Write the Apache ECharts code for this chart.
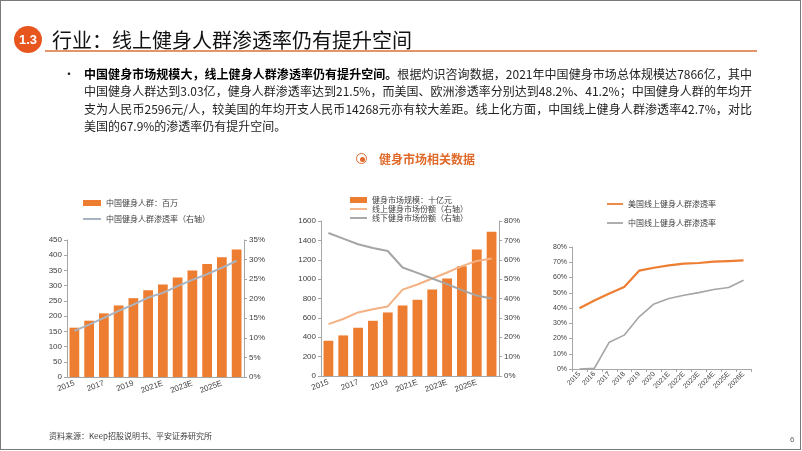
<!DOCTYPE html>
<html><head><meta charset="utf-8">
<script src="https://cdn.jsdelivr.net/npm/echarts@6/dist/echarts.min.js"></script>
<style>
html,body{margin:0;padding:0;background:#fff;}
body{width:802px;height:451px;position:relative;overflow:hidden;font-family:"Noto Sans CJK SC",sans-serif;}
#frame{position:absolute;left:0;top:0;width:799px;height:448px;border:1px solid #7a7a7a;pointer-events:none;z-index:5;}
#chart{position:absolute;left:0;top:0;width:802px;height:451px;}
.abs{position:absolute;z-index:3;white-space:nowrap;}
#badge{left:14px;top:26px;width:28px;height:27px;border-radius:50%;background:#E8561F;color:#fff;font:bold 13px "Liberation Sans",Arial,sans-serif;line-height:27px;text-align:center;}
#title{left:52px;top:29px;font-size:20px;line-height:22px;color:#111;}
#uline{left:45px;top:50px;width:712px;height:2px;background:#E2946A;}
#bullet{left:63px;top:65px;font-size:12px;line-height:17.3px;color:#222;}
#para{left:84px;top:65px;width:668px;font-size:12px;line-height:17.3px;color:#222;white-space:normal;}
#para div{text-align:justify;text-align-last:justify;white-space:nowrap;}
#para div.last{text-align-last:left;}
#para b{color:#000;}
#sec{left:379px;top:151px;font-size:12px;line-height:16px;color:#E06A2A;font-weight:bold;}
#ring{left:356px;top:153px;width:9px;height:9px;border:1.5px solid #E06A2A;border-radius:50%;}
#dot{left:359.5px;top:156.5px;width:5px;height:5px;background:#E06A2A;border-radius:50%;}
#src{left:49px;top:431px;font-size:8px;line-height:10px;color:#404040;}
#pg{left:790px;top:435px;font-size:8px;line-height:10px;color:#666;font-family:"Liberation Sans",Arial,sans-serif;}
</style></head>
<body>
<div id="chart"></div>
<div id="frame"></div>
<div class="abs" id="badge">1.3</div>
<div class="abs" id="title">行业：线上健身人群渗透率仍有提升空间</div>
<div class="abs" id="uline"></div>
<div class="abs" id="bullet">•</div>
<div class="abs" id="para">
<div><b>中国健身市场规模大，线上健身人群渗透率仍有提升空间。</b>根据灼识咨询数据，2021年中国健身市场总体规模达7866亿，其中</div>
<div>中国健身人群达到3.03亿，健身人群渗透率达到21.5%，而美国、欧洲渗透率分别达到48.2%、41.2%；中国健身人群的年均开</div>
<div>支为人民币2596元/人，较美国的年均开支人民币14268元亦有较大差距。线上化方面，中国线上健身人群渗透率42.7%，对比</div>
<div class="last">美国的67.9%的渗透率仍有提升空间。</div>
</div>
<div class="abs" id="ring"></div>
<div class="abs" id="dot"></div>
<div class="abs" id="sec">健身市场相关数据</div>
<div class="abs" id="src">资料来源：Keep招股说明书、平安证券研究所</div>
<div class="abs" id="pg">6</div>
<script>
// ---- data ----
const years = ['2015','2016','2017','2018','2019','2020','2021E','2022E','2023E','2024E','2025E','2026E'];
// chart 1
const fitnessPopulation = [162,185,209,235,259,285,304,327,350,371,393,419];
const fitnessPenetration = [11.8,13.4,15.1,16.9,18.5,20.3,21.5,23.2,24.8,26.3,27.9,29.7];
// chart 2
const marketSize = [364,419,498,570,656,728,787,893,1006,1133,1305,1490];
const onlineShare = [26.8,29.4,32.8,34.5,35.9,44.6,47.2,50.3,53.4,56.7,59.4,60.6];
const offlineShare = [73.8,70.9,68.0,66.1,64.5,56.0,53.2,50.3,47.4,44.3,41.5,40.0];
// chart 3
const usOnlinePenetration = [39.9,44.9,49.5,53.8,64.5,66.4,67.9,69.1,69.5,70.4,70.8,71.2];
const cnOnlinePenetration = [0,0.5,17.6,22.2,34.2,42.7,46.2,48.4,50.1,52.1,53.4,58.2];
// tick settings
const y1Left = {min:0,max:450,interval:50};
const y1Right = {min:0,max:35,interval:5};
const y2Left = {min:0,max:1600,interval:200};
const y2Right = {min:0,max:80,interval:10};
const y3 = {min:0,max:80,interval:10};

const names = {
  pop:'中国健身人群：百万', popRate:'中国健身人群渗透率（右轴）',
  size:'健身市场规模：十亿元', online:'线上健身市场份额（右轴）', offline:'线下健身市场份额（右轴）',
  us:'美国线上健身人群渗透率', cn:'中国线上健身人群渗透率'
};

const ORANGE='#ED7D31', GRAY='#A5A5A5', AXIS='#A6A6A6', LBL='#404040';
const numFont = '"Liberation Sans", Arial, sans-serif';
const cjkFont = '"Noto Sans CJK SC", sans-serif';
const LINE_ICON = 'path://M0,0H18V2H0Z';

function yAxis(grid, cfg, pos, pct, fs){
  return Object.assign({type:'value',gridIndex:grid,position:pos,splitLine:{show:false},
    axisLine:{show:true,lineStyle:{color:AXIS,width:1}},
    axisTick:{show:true,length:3,lineStyle:{color:AXIS}},
    axisLabel:{color:LBL,fontFamily:numFont,fontSize:fs||8,margin:5,
      formatter:pct?(v=>v+'%'):(v=>String(v))}},cfg);
}
function xAxis(grid, opts){
  return Object.assign({type:'category',gridIndex:grid,data:years,boundaryGap:true,
    axisLine:{lineStyle:{color:AXIS,width:1}},axisTick:{show:false},
    axisLabel:{color:LBL,fontFamily:numFont,fontSize:8,interval:1,rotate:20,margin:6}},opts||{});
}
const legendText = {fontSize:8,color:LBL,fontFamily:cjkFont};

const chart = echarts.init(document.getElementById('chart'));
chart.setOption({
  animation:false,
  grid:[
    {left:67,top:240,width:177,height:137},
    {left:321,top:221,width:178,height:155},
    {left:572,top:247,width:179,height:122}
  ],
  legend:[
    {orient:'vertical',left:78,top:194,itemWidth:18,itemHeight:6,itemGap:8,textStyle:legendText,
      data:[{name:names.pop,icon:'rect'},{name:names.popRate,icon:LINE_ICON}]},
    {orient:'vertical',left:345,top:191,itemWidth:17,itemHeight:6,itemGap:1,textStyle:legendText,
      data:[{name:names.size,icon:'rect'},{name:names.online,icon:LINE_ICON},{name:names.offline,icon:LINE_ICON}]},
    {orient:'vertical',left:602,top:195,itemWidth:16,itemHeight:6,itemGap:11,textStyle:legendText,
      data:[{name:names.us,icon:LINE_ICON},{name:names.cn,icon:LINE_ICON}]}
  ],
  xAxis:[
    xAxis(0),
    xAxis(1),
    xAxis(2,{axisTick:{show:true,length:3,lineStyle:{color:AXIS}},
      axisLabel:{color:LBL,fontFamily:numFont,fontSize:7,interval:0,rotate:45,margin:4}})
  ],
  yAxis:[
    yAxis(0,y1Left,'left',false),
    yAxis(0,y1Right,'right',true),
    yAxis(1,y2Left,'left',false),
    yAxis(1,y2Right,'right',true),
    yAxis(2,y3,'left',true,7)
  ],
  series:[
    {name:names.pop,type:'bar',xAxisIndex:0,yAxisIndex:0,data:fitnessPopulation,barWidth:'66%',itemStyle:{color:ORANGE}},
    {name:names.popRate,type:'line',xAxisIndex:0,yAxisIndex:1,data:fitnessPenetration,symbol:'none',lineStyle:{color:'#A9B4C2',width:2},itemStyle:{color:'#A9B4C2'}},
    {name:names.size,type:'bar',xAxisIndex:1,yAxisIndex:2,data:marketSize,barWidth:'66%',itemStyle:{color:ORANGE}},
    {name:names.online,type:'line',xAxisIndex:1,yAxisIndex:3,data:onlineShare,symbol:'none',lineStyle:{color:'#F4B183',width:2},itemStyle:{color:'#F4B183'}},
    {name:names.offline,type:'line',xAxisIndex:1,yAxisIndex:3,data:offlineShare,symbol:'none',lineStyle:{color:GRAY,width:2},itemStyle:{color:GRAY}},
    {name:names.us,type:'line',xAxisIndex:2,yAxisIndex:4,data:usOnlinePenetration,symbol:'none',lineStyle:{color:ORANGE,width:2.2},itemStyle:{color:ORANGE}},
    {name:names.cn,type:'line',xAxisIndex:2,yAxisIndex:4,data:cnOnlinePenetration,symbol:'none',lineStyle:{color:GRAY,width:1.6},itemStyle:{color:GRAY}}
  ]
});
</script>
</body></html>
